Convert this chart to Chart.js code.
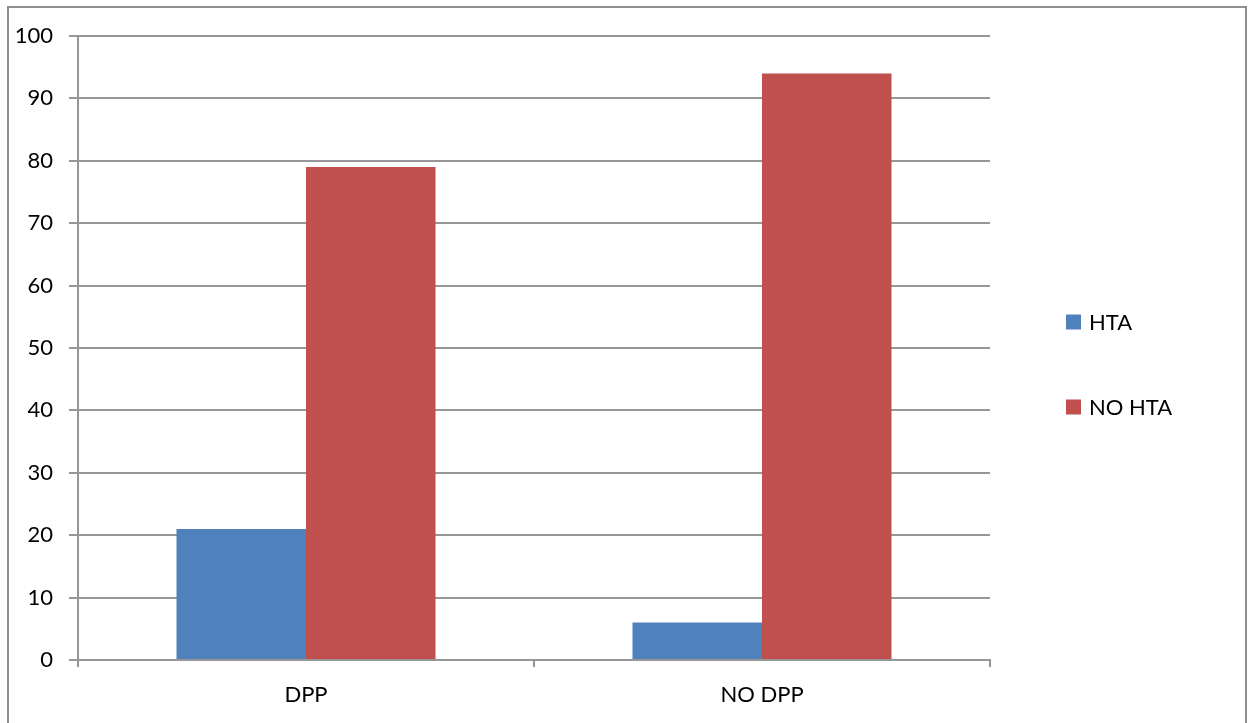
<!DOCTYPE html>
<html>
<head>
<meta charset="utf-8">
<script src="https://cdn.jsdelivr.net/npm/chart.js@4/dist/chart.umd.min.js"></script>
<style>
  html, body { margin: 0; padding: 0; background: #fff; overflow: hidden; }
  #wrap { position: relative; width: 1252px; height: 723px; }
  #frame { position: absolute; left: 7px; top: 6px; width: 1236px; height: 800px; border: 2px solid #8e8e8e; box-sizing: content-box; pointer-events: none; }
  canvas { position: absolute; left: 0; top: 0; }
</style>
</head>
<body>
<div id="wrap">
  <canvas id="c" width="1252" height="723"></canvas>
  <div id="frame"></div>
</div>
<script>
// Categories and series
const categories = ['DPP', 'NO DPP'];
const htaValues = [21, 6];
const noHtaValues = [79, 94];
const seriesLabels = ['HTA', 'NO HTA'];
const seriesColors = ['#4F81BD', '#C0504D'];
const yTicks = [0, 10, 20, 30, 40, 50, 60, 70, 80, 90, 100];

const FONT = 'Lato, "Liberation Sans", sans-serif';
const GRID = '#979797';

// Legend drawn at the right of the plot, items widely spaced
const sideLegend = {
  id: 'sideLegend',
  afterDraw(chart) {
    const ctx = chart.ctx;
    const x = 1066, box = 15;
    const centers = [322, 407];
    ctx.save();
    ctx.font = '22px ' + FONT;
    ctx.textBaseline = 'middle';
    ctx.textAlign = 'left';
    chart.data.datasets.forEach((ds, i) => {
      const cy = centers[i];
      ctx.fillStyle = ds.backgroundColor;
      ctx.fillRect(x, cy - box / 2, box, box);
      ctx.fillStyle = '#000';
      ctx.fillText(ds.label, x + 23, cy + 1);
    });
    ctx.restore();
  }
};

new Chart(document.getElementById('c'), {
  type: 'bar',
  data: {
    labels: categories,
    datasets: [
      { label: seriesLabels[0], data: htaValues, backgroundColor: seriesColors[0], borderWidth: 0 },
      { label: seriesLabels[1], data: noHtaValues, backgroundColor: seriesColors[1], borderWidth: 0 }
    ]
  },
  options: {
    responsive: false,
    animation: false,
    devicePixelRatio: 1,
    layout: { padding: { left: 0, top: 36, right: 262, bottom: 0 } },
    datasets: { bar: { categoryPercentage: 0.568, barPercentage: 1.0 } },
    plugins: { legend: { display: false }, tooltip: { enabled: false } },
    scales: {
      x: {
        offset: true,
        grid: { display: true, offset: true, drawOnChartArea: false, drawTicks: true, tickLength: 7, color: GRID, lineWidth: 2 },
        border: { display: true, color: GRID, width: 2 },
        ticks: { color: '#000', font: { family: FONT, size: 22 }, padding: 15 },
        afterFit(scale) { scale.height = 63; }
      },
      y: {
        min: 0, max: 100,
        afterBuildTicks(scale) { scale.ticks = yTicks.map(v => ({ value: v })); },
        grid: { color: GRID, lineWidth: 2, drawTicks: true, tickLength: 9 },
        border: { display: true, color: GRID, width: 2 },
        ticks: { color: '#000', font: { family: FONT, size: 22 }, padding: 16 },
        afterFit(scale) { scale.width = 78; }
      }
    }
  },
  plugins: [sideLegend]
});
</script>
</body>
</html>
